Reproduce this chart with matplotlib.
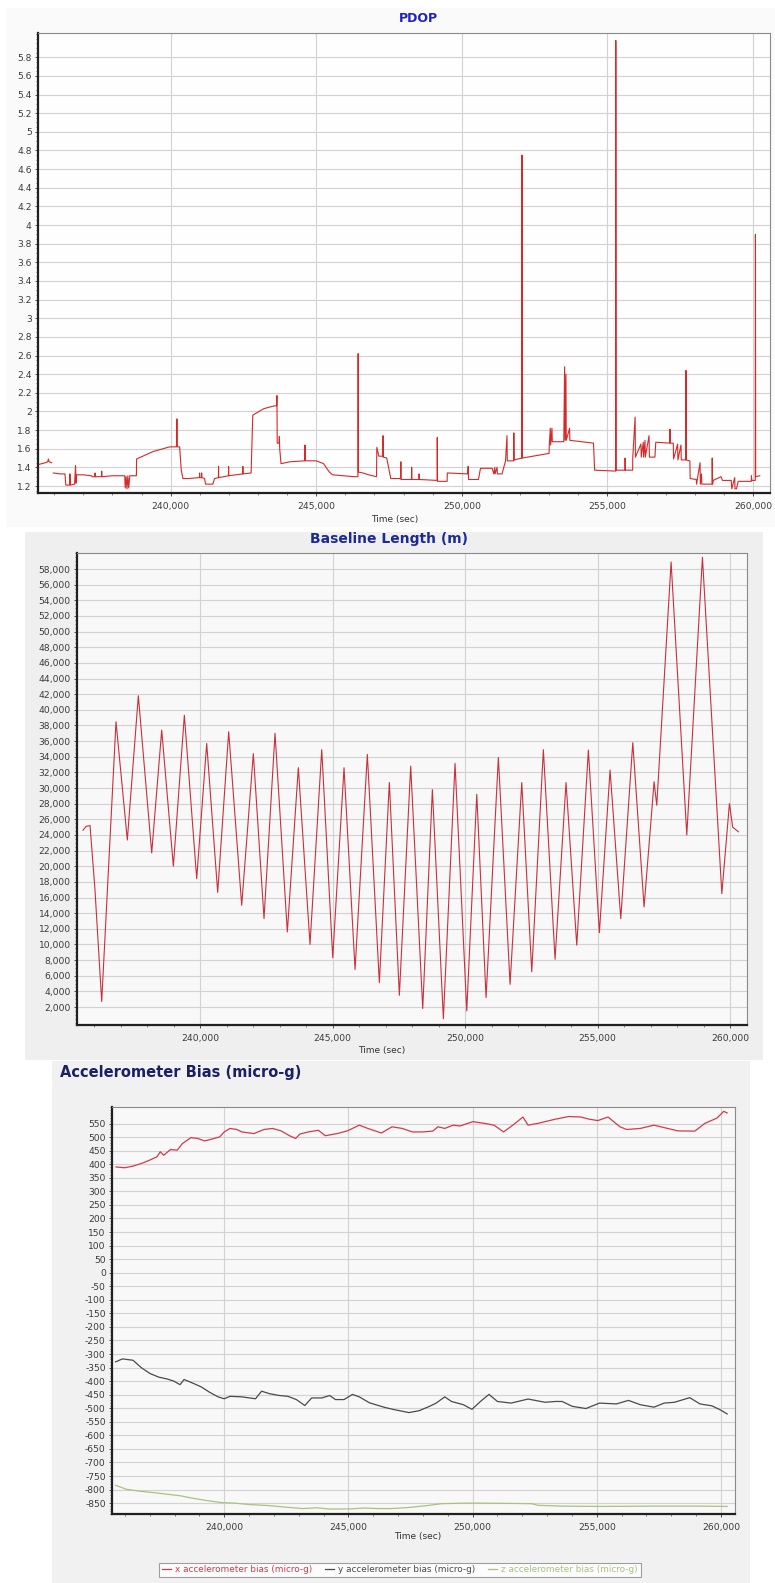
import matplotlib
matplotlib.use('Agg')
from matplotlib import pyplot as plt
from matplotlib.patches import Rectangle
from matplotlib.ticker import FuncFormatter, MultipleLocator, FixedLocator
import numpy as np

nan = float('nan')
W, H = 775, 1583  # 图片像素尺寸

# ---------------- 数据 ----------------
# PDOP（时间秒, 数值），nan 表示数据中断
pdop_time = [235455, 235700, 235780, 235800, 235830, 235914, 235940,
             235970, 236200, 236370, 236400, 236530, 236541, 236555, 236700, 236735, 236750,
             236769, 237000, 237283, 237300, 237397, 237405, 237415, 237625, 237632, 237640,
             238000, 238424, 238440, 238470, 238500, 238530, 238560, 238596, 238824, 238830,
             239400, 239966, 240200, 240215, 240230, 240308, 240365, 240422, 240594, 240990,
             240995, 241000, 241060, 241065, 241070, 241165, 241200, 241450, 241507, 241640,
             241645, 241650, 241985, 241990, 241995, 242475, 242480, 242485, 242763, 242820,
             243200, 243562, 243640, 243650, 243660, 243720, 243733, 243745, 243790, 244100,
             244600, 244612, 244625, 245000, 245250, 245450, 245560, 246300, 246430, 246439,
             246448, 246600, 246800, 247070, 247080, 247150, 247290, 247295, 247300, 247420,
             247560, 247900, 247905, 247910, 248270, 248277, 248285, 248528, 248532, 248540,
             249150, 249156, 249165, 249495, 249500, 250200, 250217, 250230, 250570, 250640,
             251040, 251100, 251130, 251140, 251210, 251220, 251380, 251500, 251550, 251560,
             251780, 251785, 251795, 252060, 252067, 252075, 252995, 253003, 253038, 253050,
             253095, 253105, 253500, 253529, 253545, 253575, 253585, 253700, 253710, 254520,
             254560, 255280, 255287, 255300, 255600, 255606, 255615, 255865, 255870, 255950,
             255960, 256150, 256160, 256230, 256240, 256290, 256300, 256428, 256440, 256630,
             256660, 257140, 257148, 257160, 257260, 257270, 257410, 257420, 257525, 257535,
             257690, 257696, 257705, 257830, 257840, 258050, 258060, 258180, 258190, 258230,
             258240, 258590, 258598, 258610, 258630, 258900, 258950, 259250, 259270, 259370,
             259380, 259430, 259490, 259940, 259945, 259955, 260075, 260082, 260090, 260230]
pdop_value = [1.43, 1.45, 1.46, 1.49, 1.46, 1.45, nan,
              1.34, 1.33, 1.33, 1.21, 1.21, 1.33, 1.21, 1.22, 1.42, 1.23,
              1.32, 1.32, 1.31, 1.30, 1.30, 1.34, 1.30, 1.30, 1.36, 1.30,
              1.31, 1.31, 1.18, 1.30, 1.17, 1.31, 1.18, 1.31, 1.31, 1.49,
              1.57, 1.62, 1.62, 1.92, 1.62, 1.62, 1.37, 1.28, 1.28, 1.29,
              1.34, 1.29, 1.29, 1.34, 1.29, 1.28, 1.22, 1.22, 1.28, 1.29,
              1.41, 1.29, 1.31, 1.41, 1.31, 1.33, 1.41, 1.33, 1.34, 1.96,
              2.03, 2.06, 2.06, 2.17, 1.66, 1.66, 1.73, 1.60, 1.44, 1.46,
              1.47, 1.64, 1.47, 1.47, 1.44, 1.35, 1.32, 1.30, 1.30, 2.62,
              1.35, 1.34, 1.32, 1.30, 1.615, 1.52, 1.52, 1.74, 1.51, 1.50,
              1.28, 1.28, 1.46, 1.27, 1.27, 1.40, 1.27, 1.27, 1.33, 1.27,
              1.26, 1.72, 1.25, 1.25, 1.34, 1.33, 1.41, 1.27, 1.27, 1.39,
              1.39, 1.33, 1.40, 1.33, 1.40, 1.33, 1.33, 1.47, 1.74, 1.47,
              1.47, 1.77, 1.48, 1.50, 4.75, 1.50, 1.55, 1.64, 1.82, 1.64,
              1.82, 1.675, 1.675, 2.48, 1.69, 2.40, 1.69, 1.82, 1.69, 1.66,
              1.37, 1.36, 5.98, 1.37, 1.37, 1.50, 1.37, 1.37, 1.51, 1.94,
              1.51, 1.65, 1.51, 1.67, 1.51, 1.69, 1.51, 1.74, 1.51, 1.51,
              1.67, 1.66, 1.81, 1.66, 1.66, 1.49, 1.65, 1.48, 1.64, 1.48,
              1.48, 2.44, 1.48, 1.47, 1.28, 1.27, 1.22, 1.45, 1.22, 1.33,
              1.22, 1.22, 1.50, 1.22, 1.26, 1.30, 1.26, 1.26, 1.17, 1.29,
              1.17, 1.17, 1.25, 1.25, 1.31, 1.26, 1.26, 3.90, 1.30, 1.31]

# 基线长度（米）
baseline_time = [235585, 235700, 235850, 236037, 236290, 236830, 237257, 237672, 238177,
                 238554, 238994, 239409, 239875, 240252, 240667, 241082, 241573, 242012,
                 242415, 242830, 243295, 243710, 244151, 244593, 245008, 245434, 245850,
                 246314, 246767, 247144, 247522, 247950, 248404, 248768, 249183, 249623,
                 250065, 250443, 250794, 251258, 251700, 252141, 252518, 252956, 253397,
                 253812, 254216, 254654, 255069, 255473, 255877, 256330, 256756, 257134,
                 257235, 257776, 258368, 258958, 259690, 259977, 260100, 260317]
baseline_length = [24600, 25100, 25200, 16950, 2700, 38470, 23350, 41800, 21700,
                   37400, 20000, 39300, 18400, 35700, 16650, 37200, 15000, 34400,
                   13300, 37000, 11600, 32600, 10000, 34900, 8300, 32600, 6800,
                   34300, 5100, 30700, 3500, 32800, 1800, 29800, 500, 33150,
                   1500, 29200, 3200, 33900, 4900, 30700, 6500, 34900, 8100,
                   30700, 9900, 34850, 11500, 32300, 13300, 35800, 14800, 30800,
                   27800, 58900, 24000, 59500, 16500, 28000, 25000, 24400]

# 加速度计零偏（micro-g）
accel_x_time = [235643, 235985, 236327, 236670, 236944, 237286, 237423, 237560, 237834,
                238108, 238313, 238656, 238930, 239204, 239478, 239820, 239998, 240231,
                240505, 240711, 241190, 241601, 241944, 242286, 242629, 242875, 243040,
                243382, 243793, 244067, 244546, 244957, 245437, 245779, 246327, 246753,
                247164, 247575, 247986, 248397, 248603, 248877, 249219, 249493, 250014,
                250452, 250863, 251247, 251617, 252028, 252233, 252644, 253329, 253877,
                254357, 254699, 255042, 255453, 255932, 256206, 256754, 257302, 257850,
                258261, 258946, 259357, 259837, 260111, 260248]
accel_x_bias = [390, 387, 393, 403, 413, 427, 446, 433, 454,
                452, 476, 498, 495, 486, 492, 501, 519, 532,
                528, 519, 513, 528, 532, 523, 505, 495, 511,
                519, 525, 505, 513, 523, 544, 532, 515, 538,
                532, 519, 519, 522, 538, 532, 544, 541, 557,
                551, 544, 519, 544, 574, 544, 551, 566, 576,
                574, 566, 561, 574, 538, 528, 532, 544, 532,
                523, 522, 551, 570, 595, 589]

accel_y_time = [235625, 235899, 236327, 236670, 237012, 237355, 237697, 237971, 238218,
                238382, 238724, 239067, 239409, 239752, 239998, 240231, 240711, 241259,
                241505, 241807, 242218, 242560, 242903, 243245, 243519, 243930, 244245,
                244478, 244820, 245163, 245437, 245848, 246464, 246890, 247438, 247849,
                248260, 248534, 248877, 249151, 249630, 249973, 250315, 250658, 251000,
                251548, 252233, 252918, 253329, 253603, 254014, 254562, 255110, 255795,
                256275, 256754, 257302, 257713, 258124, 258741, 259152, 259632, 259974,
                260248]
accel_y_bias = [-329, -318, -323, -351, -372, -385, -392, -400, -413,
                -394, -407, -421, -441, -458, -465, -456, -458, -465,
                -437, -446, -453, -456, -468, -490, -462, -462, -453,
                -468, -468, -449, -458, -480, -497, -506, -516, -509,
                -493, -481, -458, -475, -487, -504, -475, -449, -475,
                -481, -466, -478, -475, -475, -493, -501, -481, -484,
                -471, -487, -496, -481, -478, -461, -484, -491, -506,
                -521]

accel_z_time = [235625, 236063, 236601, 237149, 237697, 238245, 238793, 239341, 239889,
                240437, 240985, 241807, 242629, 243177, 243725, 244273, 245095, 245642,
                246190, 246738, 247438, 248260, 248740, 249630, 250315, 251548, 252370,
                252644, 253603, 255110, 257302, 259152, 260248]
accel_z_bias = [-784, -799, -806, -811, -817, -823, -833, -841, -848,
                -850, -855, -859, -866, -870, -867, -872, -871, -868,
                -870, -870, -866, -858, -852, -850, -850, -851, -852,
                -858, -861, -862, -861, -861, -862]

accel_labels = ['x accelerometer bias (micro-g)', 'y accelerometer bias (micro-g)',
                'z accelerometer bias (micro-g)']
accel_colors = ['#d23a4a', '#4a4a4a', '#a9c27e']

# 纵轴刻度
pdop_ticks = np.arange(12, 59, 2) / 10
baseline_ticks = np.arange(2000, 58001, 2000)
accel_ticks = np.arange(-850, 551, 50)


# ---------------- 工具函数 ----------------
def fx(px):
    return px / W


def fy(py):
    return 1 - py / H


def axes_rect(left, top, right, bottom):
    # 像素坐标 -> figure 坐标
    return [fx(left), fy(bottom), (right - left) / W, (bottom - top) / H]


def panel_bg(fig, left, top, right, bottom, color):
    fig.add_artist(Rectangle((fx(left), fy(bottom)), (right - left) / W, (bottom - top) / H,
                             transform=fig.transFigure, facecolor=color, edgecolor='none',
                             zorder=-10))


def style_axes(ax, facecolor='#fbfbfb'):
    ax.set_facecolor(facecolor)
    for s in ['top', 'right']:
        ax.spines[s].set_color('#8a8a8a')
        ax.spines[s].set_linewidth(0.8)
    for s in ['left', 'bottom']:
        ax.spines[s].set_color('#202020')
        ax.spines[s].set_linewidth(1.6)
    ax.xaxis.set_major_locator(MultipleLocator(5000))
    ax.xaxis.set_minor_locator(MultipleLocator(1000))
    ax.xaxis.set_major_formatter(FuncFormatter(lambda v, p: f'{int(v):,}'))
    ax.grid(True, which='major', axis='both', color='#d2d2d2', linewidth=0.8)
    ax.tick_params(axis='both', which='major', labelsize=6.6, colors='#333333',
                   length=2.5, width=0.6, pad=2)
    ax.tick_params(axis='both', which='minor', length=1.5, width=0.5, colors='#555555')
    ax.tick_params(axis='x', which='major', pad=4)
    for lab in ax.get_xticklabels() + ax.get_yticklabels():
        lab.set_color('#3a3a3a')


fig = plt.figure(figsize=(W / 100, H / 100), dpi=100)
fig.patch.set_facecolor('white')

# ---------------- PDOP ----------------
panel_bg(fig, 6, 8, 775, 527, '#fafafa')
ax1 = fig.add_axes(axes_rect(38, 33, 770, 493))
ax1.plot(pdop_time, pdop_value, color='#d42a2a', linewidth=0.8)
ax1.set_xlim(235445, 260582)
ax1.set_ylim(1.125, 6.06)
ax1.yaxis.set_major_locator(FixedLocator(pdop_ticks))
ax1.yaxis.set_minor_locator(MultipleLocator(0.05))
ax1.yaxis.set_major_formatter(FuncFormatter(lambda v, p: f'{v:.1f}'.rstrip('0').rstrip('.')))
style_axes(ax1, '#fefefe')
fig.text(fx(418), fy(18), 'PDOP', ha='center', va='center', fontsize=9,
         fontweight='bold', color='#1f22c0')
fig.text(fx(395), fy(519), 'Time (sec)', ha='center', va='center', fontsize=6.5,
         color='#333333')

# ---------------- Baseline Length ----------------
panel_bg(fig, 25, 532, 763, 1060, '#efefef')
ax2 = fig.add_axes(axes_rect(77, 553, 747, 1025))
ax2.plot(baseline_time, baseline_length, color='#c8303c', linewidth=0.8)
ax2.set_xlim(235358, 260640)
ax2.set_ylim(-300, 60050)
ax2.yaxis.set_major_locator(FixedLocator(baseline_ticks))
ax2.yaxis.set_minor_locator(MultipleLocator(500))
ax2.yaxis.set_major_formatter(FuncFormatter(lambda v, p: f'{int(v):,}'))
style_axes(ax2, '#f8f8f8')
fig.text(fx(389), fy(539), 'Baseline Length (m)', ha='center', va='center', fontsize=10,
         fontweight='bold', color='#1b2a96')
fig.text(fx(382), fy(1050), 'Time (sec)', ha='center', va='center', fontsize=6.5,
         color='#333333')

# ---------------- Accelerometer Bias ----------------
panel_bg(fig, 52, 1061, 750, 1583, '#f1f1f1')
ax3 = fig.add_axes(axes_rect(112, 1107, 735, 1514))
series = [(accel_x_time, accel_x_bias), (accel_y_time, accel_y_bias), (accel_z_time, accel_z_bias)]
for (t, b), lab, c in zip(series, accel_labels, accel_colors):
    ax3.plot(t, b, color=c, linewidth=0.9, label=lab)
ax3.set_xlim(235480, 260565)
ax3.set_ylim(-890, 611)
ax3.yaxis.set_major_locator(FixedLocator(accel_ticks))
ax3.yaxis.set_minor_locator(MultipleLocator(10))
ax3.yaxis.set_major_formatter(FuncFormatter(lambda v, p: f'{int(round(v))}'))
style_axes(ax3, '#f8f8f8')
fig.text(fx(60), fy(1073), 'Accelerometer Bias (micro-g)', ha='left', va='center',
         fontsize=10.5, fontweight='bold', color='#1a2066')
fig.text(fx(418), fy(1537), 'Time (sec)', ha='center', va='center', fontsize=6.5,
         color='#333333')

leg = fig.legend(loc='center', bbox_to_anchor=(fx(400), fy(1570)), ncol=3, fontsize=6.4,
                 handlelength=1.0, handletextpad=0.5, columnspacing=1.4, frameon=True,
                 fancybox=False, edgecolor='#888888', borderpad=0.3)
leg.get_frame().set_linewidth(0.8)
for txt, c in zip(leg.get_texts(), accel_colors):
    txt.set_color(c)

fig.savefig('out.png', dpi=100)
